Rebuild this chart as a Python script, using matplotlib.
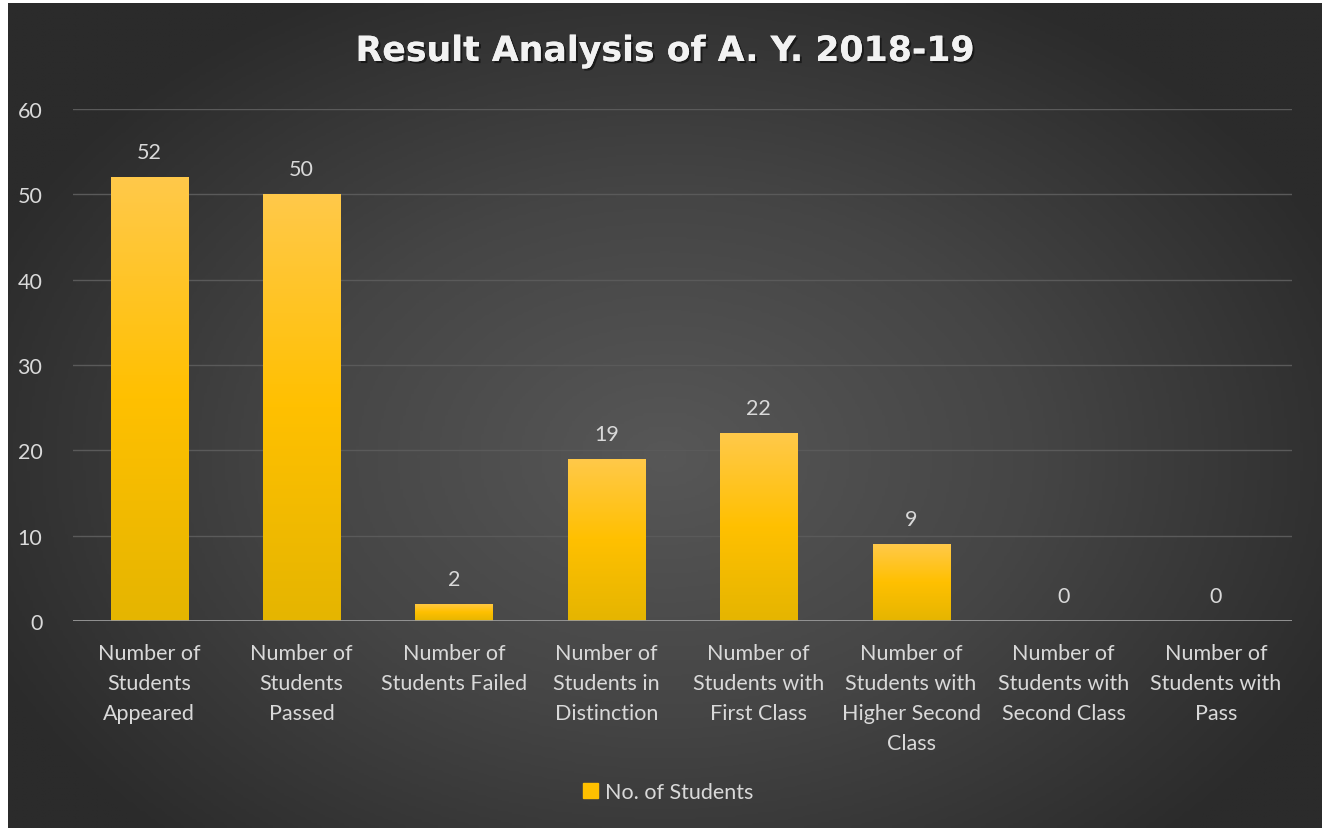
import numpy as np
import matplotlib
matplotlib.use("Agg")
import matplotlib.pyplot as plt
import matplotlib.patheffects as pe
from matplotlib.colors import LinearSegmentedColormap

plt.rcParams['font.family'] = ['Lato', 'DejaVu Sans']

title = "Result Analysis of A. Y. 2018-19"
series_name = "No. of Students"
categories = [
    "Number of\nStudents\nAppeared",
    "Number of\nStudents\nPassed",
    "Number of\nStudents Failed",
    "Number of\nStudents in\nDistinction",
    "Number of\nStudents with\nFirst Class",
    "Number of\nStudents with\nHigher Second\nClass",
    "Number of\nStudents with\nSecond Class",
    "Number of\nStudents with\nPass",
]
values = [52, 50, 2, 19, 22, 9, 0, 0]
yticks = [0, 10, 20, 30, 40, 50, 60]

W, H = 1322, 829
fig = plt.figure(figsize=(W / 100, H / 100), dpi=100)
fig.patch.set_facecolor('white')

# background with radial gradient
bg = fig.add_axes([8 / W, 0, 1 - 8 / W, 1 - 4 / H])
bg.set_axis_off()
yy, xx = np.mgrid[0:1:300j, 0:1:480j]
r = np.sqrt(((xx - 0.5) / 0.75) ** 2 + ((yy - 0.55) / 0.85) ** 2)
r = np.clip(r / 0.75, 0, 1)
bg_cmap = LinearSegmentedColormap.from_list('bg', ['#575757', '#454545', '#2b2b2b'])
bg.imshow(r, cmap=bg_cmap, aspect='auto', extent=[0, 1, 0, 1], vmin=0, vmax=1)
bg.set_xlim(0, 1)
bg.set_ylim(0, 1)

ax = fig.add_axes([73 / W, 1 - 622 / H, (1292 - 73) / W, (622 - 110) / H])
ax.set_facecolor('none')
for s in ax.spines.values():
    s.set_visible(False)

x = np.arange(len(categories))
bars = ax.bar(x, values, width=0.506, color='#FFC000', zorder=3, label=series_name)

bar_cmap = LinearSegmentedColormap.from_list('bar', ['#E5B500', '#FFC000', '#FFC94A'])
grad = np.linspace(0, 1, 256).reshape(-1, 1)
for b in bars:
    h = b.get_height()
    if h <= 0:
        continue
    b.set_facecolor('none')
    im = ax.imshow(grad, cmap=bar_cmap, aspect='auto', origin='lower',
                   extent=[b.get_x(), b.get_x() + b.get_width(), 0, h], zorder=3)
    im.set_clip_path(b)

for xi, v in zip(x, values):
    ax.annotate(str(v), (xi, v), xytext=(0, 11), textcoords='offset points',
                ha='center', va='bottom', color='#d9d9d9', fontsize=15.5)

ax.set_xlim(-0.5, len(categories) - 0.5)
ax.set_ylim(0, 60)
ax.set_yticks(yticks)
ax.yaxis.grid(True, color='#5a5a5a', linewidth=1.0, zorder=0)
ax.set_axisbelow(True)
ax.axhline(0, color='#9a9a9a', linewidth=2, zorder=4)
ax.set_xticks(x)
ax.set_xticklabels(categories, color='#d9d9d9', fontsize=15.5, linespacing=1.62)
ax.tick_params(axis='both', length=0, colors='#d9d9d9', labelsize=15.5)
ax.tick_params(axis='x', pad=16)
ax.tick_params(axis='y', pad=22)

fig.text(0.5 + 4 / W, 1 - 52 / H, title, ha='center', va='center', fontsize=25,
         fontweight='bold', color='#f2f2f2', family=['DejaVu Sans'],
         path_effects=[pe.withSimplePatchShadow(offset=(1.5, -1.5), shadow_rgbFace='black', alpha=0.5),
                       pe.Normal()])

leg = fig.legend(handles=[plt.Rectangle((0, 0), 1, 1, color='#FFC000')], labels=[series_name],
                 loc='center', bbox_to_anchor=(668 / W, 1 - 793 / H), frameon=False,
                 fontsize=15.5, handlelength=0.7, handleheight=0.7, handletextpad=0.3)
for t in leg.get_texts():
    t.set_color('#d9d9d9')

fig.savefig('out.png', dpi=100, facecolor=fig.get_facecolor())
